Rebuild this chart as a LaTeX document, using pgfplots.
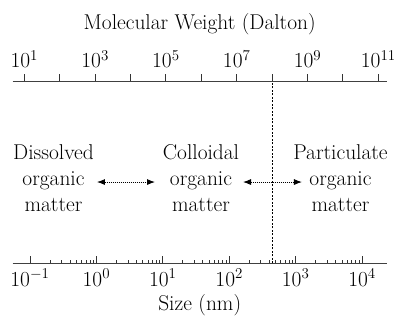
\RequirePackage{fix-cm}
\documentclass[border=0pt]{standalone}
\usepackage{pgfplots}
\pgfplotsset{compat=1.18}
\usetikzlibrary{arrows.meta}
\newcommand{\bigf}{\fontsize{21.5}{25}\selectfont}
\begin{document}
\bigf
\begin{tikzpicture}[font=\bigf]
\useasboundingbox (0,0) rectangle (396bp,322bp);
% bottom axis: size (nm)
\begin{axis}[
  at={(12.7bp,58.7bp)}, anchor=south west,
  scale only axis, width=374bp, height=181.8bp,
  xmode=log, xmin=0.05487, xmax=23550, ymin=0, ymax=1,
  axis x line*=bottom, axis y line=none,
  every outer x axis line/.append style={-},
  every inner x axis line/.append style={-},
  axis line style={-, line width=1.3bp, black!75},
  xtick={0.1,1,10,100,1000,10000},
  minor xtick={0.2,0.3,0.4,0.5,0.6,0.7,0.8,0.9,2,3,4,5,6,7,8,9,20,30,40,50,60,70,80,90,200,300,400,500,600,700,800,900,2000,3000,4000,5000,6000,7000,8000,9000},
  tick align=inside,
  major tick length=7bp, minor tick length=3.5bp,
  tick style={line width=0.9bp, black!80},
  xticklabel style={font=\bigf, anchor=base, yshift=-22.7bp},
  xlabel={Size (nm)},
  xlabel style={font=\bigf, at={(axis description cs:0.5,0)}, anchor=base, yshift=-46.7bp},
  clip=false,
]
\addplot[black, line width=0.9bp, dash pattern=on 2.2bp off 1.3bp] coordinates {(450,0) (450,1)};
\addplot[black, line width=0.8bp, dash pattern=on 1bp off 1bp, {Latex[length=8bp,width=6bp]}-{Latex[length=8bp,width=6bp]}] coordinates {(1.02,0.447) (7.63,0.447)};
\addplot[black, line width=0.8bp, dash pattern=on 1bp off 1bp, {Latex[length=8bp,width=6bp]}-{Latex[length=8bp,width=6bp]}] coordinates {(161.4,0.447) (1247,0.447)};
\end{axis}
% top axis: molecular weight (Dalton)
\begin{axis}[
  at={(12.7bp,58.7bp)}, anchor=south west,
  scale only axis, width=374bp, height=181.8bp,
  xmode=log, xmin=4.701, xmax=1.726e11, ymin=0, ymax=1,
  axis x line*=top, axis y line=none,
  every outer x axis line/.append style={-},
  every inner x axis line/.append style={-},
  axis line style={-, line width=1.3bp, black!75},
  xtick={1e1,1e2,1e3,1e4,1e5,1e6,1e7,1e8,1e9,1e10,1e11},
  xticklabels={$10^{1}$,,$10^{3}$,,$10^{5}$,,$10^{7}$,,$10^{9}$,,$10^{11}$},
  minor x tick style={draw=none},
  tick align=outside,
  major tick length=7bp,
  tick style={line width=0.9bp, black!80},
  xticklabel style={font=\bigf, anchor=base, yshift=6.5bp},
  xlabel={Molecular Weight (Dalton)},
  xlabel style={font=\bigf, at={(axis description cs:0.5,1)}, anchor=base, yshift=52.2bp},
  clip=false,
]
\end{axis}
\node[anchor=base] at (53.5bp,162bp) {Dissolved};
\node[anchor=base] at (53.5bp,136bp) {organic};
\node[anchor=base] at (53.5bp,110bp) {matter};
\node[anchor=base] at (201bp,162bp) {Colloidal};
\node[anchor=base] at (201bp,136bp) {organic};
\node[anchor=base] at (201bp,110bp) {matter};
\node[anchor=base] at (340.5bp,162bp) {Particulate};
\node[anchor=base] at (340.5bp,136bp) {organic};
\node[anchor=base] at (340.5bp,110bp) {matter};
\end{tikzpicture}
\end{document}
